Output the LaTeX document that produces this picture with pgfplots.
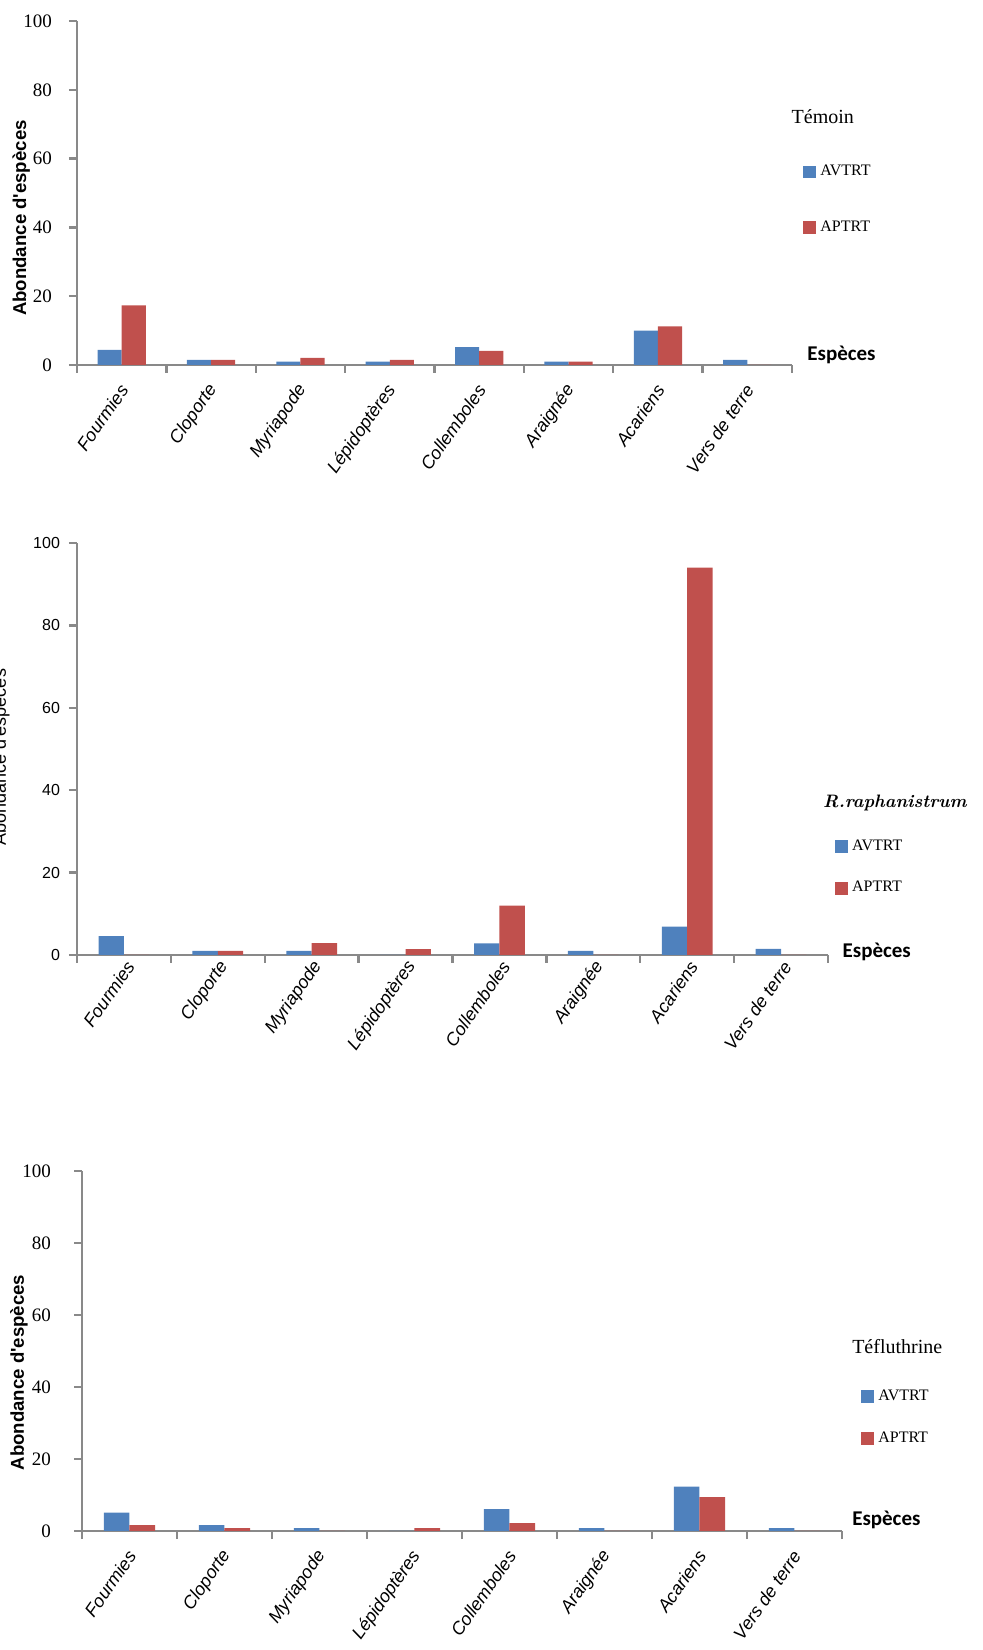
\documentclass[border=0pt]{standalone}
\usepackage{fontspec}
\usepackage{pgfplots}
\pgfplotsset{compat=1.18}
\newfontfamily\serifL{Liberation Serif}
\newfontfamily\sansL{Liberation Sans}
\newfontfamily\calib{Carlito}
\definecolor{av}{HTML}{4F81BD}
\definecolor{ap}{HTML}{C0504D}
\definecolor{axg}{HTML}{898989}

\pgfplotstableread{
x av ap
0.5 4.4 17.3
1.5 1.5 1.5
2.5 1.0 2.1
3.5 1.0 1.5
4.5 5.2 4.1
5.5 1.0 1.0
6.5 10.0 11.2
7.5 1.5 0
}\temoin
\pgfplotstableread{
x av ap
0.5 4.6 0
1.5 1.0 1.0
2.5 1.0 2.9
3.5 0 1.4
4.5 2.8 12.0
5.5 1.0 0
6.5 6.9 94.0
7.5 1.5 0
}\raph
\pgfplotstableread{
x av ap
0.5 5.1 1.6
1.5 1.6 0.8
2.5 0.8 0
3.5 0 0.8
4.5 6.1 2.2
5.5 0.8 0
6.5 12.3 9.4
7.5 0.8 0
}\teflu

\pgfplotsset{
 panel/.style={
  scale only axis, anchor=south west, clip=false,
  xmin=0, xmax=8, ymin=0, ymax=100,
  axis lines=left, axis line style={-, axg, line width=1.3pt},
  ytick={0,20,...,100}, xtick={0,...,8}, xticklabels={},
  tick style={axg, line width=1.2pt},
  major tick length=4pt, tick align=outside,
  extra x ticks={0.5,1.5,...,7.5},
  extra x tick labels={Fourmies,Cloporte,Myriapode,Lépidoptères,Collemboles,Araignée,Acariens,Vers de terre},
  extra x tick style={major tick length=0pt},
  xticklabel style={font=\sansL\itshape\fontsize{9}{10}\selectfont, rotate=55, anchor=east, yshift=-5pt, xshift=2pt},
  /pgf/number format/assume math mode=true,
  legend style={draw=none, fill=none, anchor=north west, font=\serifL\fontsize{8}{9}\selectfont,
    /tikz/every even column/.append style={column sep=4pt}},
  legend cell align=left,
 },
 avbar/.style={ybar, bar width=0.27, bar shift=-0.135, fill=av, draw=none,
   legend image code/.code={\fill[av] (0pt,-3.2pt) rectangle (6.5pt,3.2pt);}},
 apbar/.style={ybar, bar width=0.27, bar shift=0.135, fill=ap, draw=none,
   legend image code/.code={\fill[ap] (0pt,-3.2pt) rectangle (6.5pt,3.2pt);}},
}

\begin{document}
\begin{tikzpicture}
\useasboundingbox (0,0) rectangle (491pt,825pt);
\clip (0,0) rectangle (491pt,825pt);

% Panel 1 : Temoin
\begin{axis}[panel, at={(38.5pt,642.5pt)}, width=357.5pt, height=172pt,
  yticklabel style={font=\serifL\fontsize{9.5}{10}\selectfont, xshift=-5pt},
  xticklabel style={xshift=-6.8pt, yshift=-2.2pt},
  ylabel={Abondance d'espèces},
  ylabel style={font=\sansL\bfseries\fontsize{9.3}{10}\selectfont, at={(axis description cs:-0.078,0.427)}, anchor=center, rotate=0},
  legend style={at={(axis description cs:1.007,0.605)}, row sep=17pt},
]
\addplot[avbar] table[x=x,y=av]{\temoin};
\addlegendentry{AVTRT}
\addplot[apbar] table[x=x,y=ap]{\temoin};
\addlegendentry{APTRT}
\node[anchor=west, font=\serifL\fontsize{10}{11}\selectfont, inner sep=0pt] at (axis description cs:0.999,0.721) {Témoin};
\node[anchor=west, font=\calib\bfseries\fontsize{10.5}{12}\selectfont, inner sep=0pt] at (axis description cs:1.021,0.029) {Espèces};
\end{axis}

% Panel 2 : R. raphanistrum
\begin{axis}[panel, at={(38.5pt,347.5pt)}, width=375.5pt, height=206pt,
  yticklabel style={font=\sansL\fontsize{8}{9}\selectfont, xshift=-1pt},
  ylabel={Abondance d'espèces},
  ylabel style={font=\sansL\fontsize{9}{10}\selectfont, at={(axis description cs:-0.101,0.48)}, anchor=center, rotate=0},
  legend style={at={(axis description cs:1.001,0.30)}, row sep=10pt},
]
\addplot[avbar] table[x=x,y=av]{\raph};
\addlegendentry{AVTRT}
\addplot[apbar] table[x=x,y=ap]{\raph};
\addlegendentry{APTRT}
\node[anchor=west, font=\bfseries\itshape\fontsize{9}{10}\selectfont, inner sep=0pt] at (axis description cs:0.993,0.369) {R.raphanistrum};
\node[anchor=west, font=\calib\bfseries\fontsize{10.5}{12}\selectfont, inner sep=0pt] at (axis description cs:1.019,0.007) {Espèces};
\end{axis}

% Panel 3 : Tefluthrine
\begin{axis}[panel, at={(41pt,59.5pt)}, width=380pt, height=180pt,
  yticklabel style={font=\serifL\fontsize{9.5}{10}\selectfont, xshift=-8pt},
  xticklabel style={xshift=-6.8pt, yshift=-2.2pt},
  ylabel={Abondance d'espèces},
  ylabel style={font=\sansL\bfseries\fontsize{9.3}{10}\selectfont, at={(axis description cs:-0.083,0.44)}, anchor=center, rotate=0},
  legend style={at={(axis description cs:1.017,0.415)}, row sep=10pt},
]
\addplot[avbar] table[x=x,y=av]{\teflu};
\addlegendentry{AVTRT}
\addplot[apbar] table[x=x,y=ap]{\teflu};
\addlegendentry{APTRT}
\node[anchor=west, font=\serifL\fontsize{10}{11}\selectfont, inner sep=0pt] at (axis description cs:1.013,0.511) {Téfluthrine};
\node[anchor=west, font=\calib\bfseries\fontsize{10.5}{12}\selectfont, inner sep=0pt] at (axis description cs:1.013,0.031) {Espèces};
\end{axis}
\end{tikzpicture}
\end{document}
